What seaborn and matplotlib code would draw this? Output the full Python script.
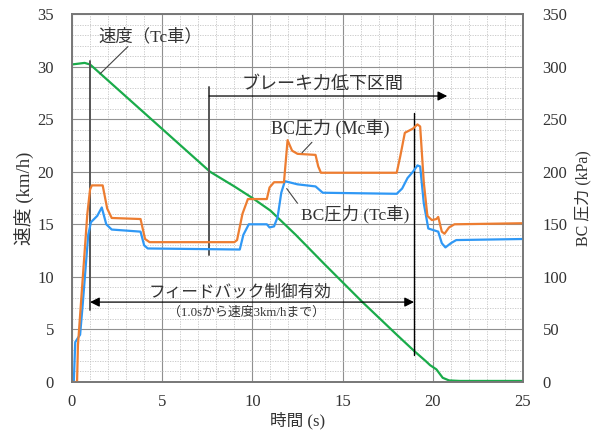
import matplotlib
matplotlib.use("Agg")
import matplotlib.pyplot as plt
from matplotlib.ticker import MultipleLocator
import pandas as pd
import seaborn as sns

# Train speed (Tc car), km/h
speed_t = [0, 0.7, 1.0, 1.2, 7.65, 9.0, 10.0, 11.0, 12.4, 14.0, 16.1, 18.0,
           19.0, 19.6, 19.85, 20.2, 20.55, 20.9, 21.5, 25]
speed_v = [30.2, 30.35, 30.2, 29.9, 20.0, 18.6, 17.5, 16.3, 14.0, 11.2, 7.6, 4.5,
           2.9, 2.0, 1.6, 1.2, 0.4, 0.15, 0.1, 0.1]

# Brake cylinder pressure (Mc car), kPa
mc_t = [0, 0.28, 0.33, 0.85, 1.0, 1.1, 1.7, 1.95, 2.2, 3.8, 4.05, 4.3, 9.0, 9.15,
        9.45, 9.75, 10.8, 10.95, 11.2, 11.75, 11.85, 11.95, 12.2, 12.5, 13.5,
        13.65, 13.8, 18.0, 18.2, 18.45, 18.9, 19.15, 19.3, 19.5, 19.7, 19.95,
        20.2, 20.3, 20.5, 20.65, 20.9, 21.2, 25]
mc_p = [0, 0, 35, 160, 183, 187, 187, 165, 156, 155, 136, 133, 133, 135,
        160, 174, 174, 185, 190, 190, 210, 230, 220, 217, 216,
        205, 199, 199, 215, 237, 241, 245, 243, 190, 158, 154,
        155, 157, 143, 141, 147, 150, 151]

# Brake cylinder pressure (Tc car), kPa
tc_t = [0, 0.1, 0.18, 0.45, 0.6, 0.9, 1.05, 1.4, 1.65, 1.9, 2.2, 3.8, 4.0, 4.2,
        9.3, 9.5, 9.8, 10.8, 10.95, 11.2, 11.4, 11.6, 11.8, 12.5, 13.5, 13.7,
        13.9, 18.0, 18.3, 18.6, 18.9, 19.15, 19.3, 19.5, 19.75, 20.3, 20.5,
        20.7, 21.0, 21.3, 25]
tc_p = [0, 0, 38, 45, 75, 140, 152, 158, 166, 150, 145, 143, 130, 127,
        126, 140, 150, 150, 147, 148, 157, 180, 191, 188, 186, 183,
        180, 179, 184, 194, 200, 206, 205, 170, 146, 143, 132,
        128, 132, 135, 136]

speed_df = pd.DataFrame({"t": speed_t, "v": speed_v})
mc_df = pd.DataFrame({"t": mc_t, "p": mc_p})
tc_df = pd.DataFrame({"t": tc_t, "p": tc_p})

sns.set_theme(style="white")
FONTS = ["Liberation Serif", "Noto Sans CJK JP", "DejaVu Sans"]
plt.rcParams["font.family"] = FONTS
TXT = "#333333"

GREEN = "#1aab4a"
ORANGE = "#ed7d31"
BLUE = "#2f98f5"

fig = plt.figure(figsize=(5.95, 4.30), dpi=100)
ax = fig.add_axes([72 / 595, 1 - 382 / 430, 451 / 595, 368 / 430])
ax2 = ax.twinx()

sns.lineplot(data=speed_df, x="t", y="v", ax=ax, color=GREEN, lw=1.6,
             estimator=None, sort=False)
sns.lineplot(data=tc_df, x="t", y="p", ax=ax2, color=BLUE, lw=1.6,
             estimator=None, sort=False)
sns.lineplot(data=mc_df, x="t", y="p", ax=ax2, color=ORANGE, lw=1.6,
             estimator=None, sort=False)

ax.set_xlim(0, 25)
ax.set_ylim(0, 35)
ax2.set_ylim(0, 350)
ax.xaxis.set_major_locator(MultipleLocator(5))
ax.xaxis.set_minor_locator(MultipleLocator(1))
ax.yaxis.set_major_locator(MultipleLocator(5))
ax.yaxis.set_minor_locator(MultipleLocator(1))
ax2.yaxis.set_major_locator(MultipleLocator(50))

ax.grid(which="major", color="#8f8f8f", lw=0.8, ls="-")
ax.grid(which="minor", color="#c4c4c4", lw=0.6, ls=(0, (1.5, 1.5)))
ax.set_axisbelow(True)
ax2.grid(False)

for a in (ax, ax2):
    for s in a.spines.values():
        s.set_color("#777777")
        s.set_linewidth(1.2)
    a.tick_params(which="both", length=0, labelsize=12, labelcolor=TXT)
ax.tick_params(axis="y", pad=13)
ax.tick_params(axis="x", pad=9)
ax2.tick_params(axis="y", pad=14)

ax.set_xlabel("時間 (s)", fontsize=12, color=TXT, labelpad=1)
ax.set_ylabel("速度 (km/h)", fontsize=13.5, color=TXT, labelpad=2)
ax2.set_ylabel("BC 圧力 (kPa)", fontsize=11.5, color=TXT, labelpad=5)

# Speed label and leader
ax.text(1.45, 32.8, "速度（Tc車）", fontsize=12.5, color=TXT, va="center", ha="left")
ax.plot([3.1, 1.55], [31.9, 29.3], color="#444444", lw=0.8)

# Marker lines for the start/end of the intervals
ax.plot([1.0, 1.0], [30.5, 6.85], color="#555555", lw=1.4)
ax.plot([7.6, 7.6], [28.1, 12.1], color="#555555", lw=1.4)
ax.plot([18.96, 18.96], [25.6, 2.55], color="black", lw=1.0)

# Reduced braking force interval
ax.annotate("", xy=(20.8, 27.2), xytext=(7.6, 27.2),
            arrowprops=dict(arrowstyle="-|>", color="black", lw=0.9,
                            mutation_scale=14, shrinkA=0, shrinkB=0))
ax.text(13.9, 28.3, "ブレーキ力低下区間", fontsize=13, color=TXT,
        ha="center", va="center")

# Feedback control interval
ax.annotate("", xy=(1.0, 7.6), xytext=(18.96, 7.6),
            arrowprops=dict(arrowstyle="<|-|>", color="black", lw=0.9,
                            mutation_scale=14, shrinkA=0, shrinkB=0))
ax.text(9.3, 8.5, "フィードバック制御有効", fontsize=12, color=TXT,
        ha="center", va="center")
ax.text(9.7, 6.6, "（1.0sから速度3km/hまで）", fontsize=9.3, color=TXT,
        ha="center", va="center")

# Pressure labels and leaders
ax2.text(14.3, 241, "BC圧力 (Mc車)", fontsize=13, color=TXT,
         ha="center", va="center")
ax2.plot([13.3, 12.75], [228, 218], color="#444444", lw=0.8)
ax2.text(15.7, 160, "BC圧力 (Tc車)", fontsize=12.5, color=TXT,
         ha="center", va="center")
ax2.plot([11.9, 12.5], [184, 170], color="#444444", lw=0.8)

ax.set_zorder(1)
ax2.set_zorder(2)
ax2.patch.set_visible(False)

fig.savefig("out.png", dpi=100)
